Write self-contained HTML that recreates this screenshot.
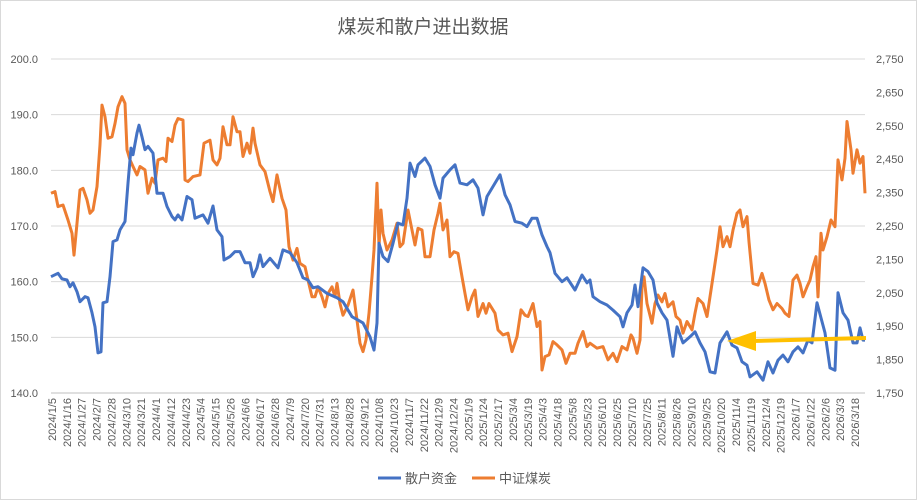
<!DOCTYPE html>
<html><head><meta charset="utf-8"><style>
html,body{margin:0;padding:0;background:#fff;}
svg{display:block;font-family:"Liberation Sans","Noto Sans CJK SC",sans-serif;}
</style></head><body>
<svg id="chart" width="917" height="500" viewBox="0 0 917 500" xmlns="http://www.w3.org/2000/svg">
<rect x="0.5" y="0.5" width="916" height="499" fill="#fff" stroke="#d9d9d9"/>
<text x="423" y="33" font-size="19" fill="#595959" text-anchor="middle">煤炭和散户进出数据</text>
<g id="grid"></g>
<g id="yl"></g>
<g id="yr"></g>
<g id="xl"></g>
<g id="series"></g>
<g>
<line x1="866" y1="338" x2="752" y2="341" stroke="#FFC000" stroke-width="4"/>
<polygon points="727,341 756,331 756,351" fill="#FFC000"/>
</g>
<g>
<g>
<line x1="378" y1="478" x2="401" y2="478" stroke="#4472C4" stroke-width="3"/>
<text x="405" y="483" font-size="13" fill="#595959">散户资金</text></g>
<g>
<line x1="472" y1="478" x2="495" y2="478" stroke="#ED7D31" stroke-width="3"/>
<text x="499" y="483" font-size="13" fill="#595959">中证煤炭</text></g>
</g>
</svg>
<script>
const xLabels=["2024/1/5","2024/1/16","2024/1/27","2024/2/7","2024/2/28","2024/3/10","2024/3/21","2024/4/1","2024/4/12","2024/4/23","2024/5/4","2024/5/15","2024/5/26","2024/6/6","2024/6/17","2024/6/28","2024/7/9","2024/7/20","2024/7/31","2024/8/13","2024/8/28","2024/9/12","2024/10/8","2024/10/23","2024/11/7","2024/11/22","2024/12/9","2024/12/24","2025/1/9","2025/1/24","2025/2/17","2025/3/4","2025/3/19","2025/4/3","2025/4/18","2025/5/8","2025/5/23","2025/6/10","2025/6/25","2025/7/10","2025/7/25","2025/8/11","2025/8/26","2025/9/10","2025/9/25","2025/10/20","2025/11/4","2025/11/19","2025/12/4","2025/12/19","2026/1/7","2026/1/22","2026/2/6","2026/3/3","2026/3/18"];
const leftTicks=[140,150,160,170,180,190,200];
const rightTicks=[1750,1850,1950,2050,2150,2250,2350,2450,2550,2650,2750];
const blueDays=[0,7,11,16,19,22,26,29,34,37,41,44,47,50,52,56,59,62,66,69,74,77,80,82,86,88,91,94,97,102,106,112,116,121,124,127,131,136,141,144,152,157,162,166,171,173,179,184,189,194,199,202,206,209,212,219,227,232,239,246,252,257,262,267,276,286,292,301,307,312,319,323,326,328,332,337,342,347,352,356,359,364,367,374,379,384,389,392,399,404,409,416,422,427,432,436,442,449,454,459,464,471,476,481,486,491,496,499,504,511,516,524,531,536,539,542,549,556,562,569,572,576,581,584,587,592,597,602,606,611,616,622,626,632,639,644,649,654,659,664,669,676,681,686,691,696,699,706,712,717,722,727,732,737,742,747,752,757,761,766,770,774,779,784,787,792,797,802,806,809,812,814];
const blueValues=[160.9,161.5,160.5,160.3,159.1,159.8,158.2,156.4,157.3,157.1,154.4,151.9,147.2,147.4,156.2,156.4,160.9,167.2,167.5,169.3,170.8,177.7,184.0,182.8,186.7,188.1,186.0,183.7,184.3,183.1,175.9,175.9,173.5,171.7,171.1,172.0,171.1,175.3,174.7,171.4,172.0,170.5,173.6,169.3,168.1,163.9,164.5,165.4,165.4,163.4,163.4,160.9,162.5,164.8,162.7,164.2,162.5,165.7,165.2,163.4,160.7,160.3,158.9,159.1,157.9,157.1,156.4,153.7,153.1,152.6,150.1,147.7,152.6,166.9,164.5,163.6,166.9,170.5,170.2,175.0,181.3,178.9,181.0,182.2,180.7,177.4,175.0,178.6,180.1,181.0,177.7,177.4,178.3,176.8,172.0,175.3,177.1,179.2,175.6,173.8,170.8,170.5,169.9,171.4,171.4,168.4,166.3,165.2,161.5,160.0,160.7,158.5,161.2,159.8,160.3,157.3,156.4,155.8,154.9,153.7,151.9,154.4,155.8,159.4,155.5,162.5,161.8,160.3,156.2,154.4,153.1,146.6,151.9,149.0,150.1,151.0,149.0,147.4,143.8,143.6,149.0,151.0,148.6,148.1,145.6,145.0,142.9,143.8,142.3,145.6,143.6,145.9,146.8,145.6,147.4,148.3,147.2,149.5,149.0,156.2,153.5,150.8,144.5,144.1,158.0,154.4,153.1,149.0,149.0,151.7,149.5,149.5];
const orangeDays=[0,4,7,12,17,21,23,26,29,32,36,39,42,46,49,51,54,57,61,64,67,71,74,76,79,82,86,89,94,97,101,104,107,112,115,117,121,124,127,132,134,137,142,149,153,159,162,166,169,172,176,179,182,186,189,192,196,199,202,204,209,214,219,222,226,231,235,238,242,246,249,254,257,261,264,267,271,274,277,281,284,286,289,292,297,302,306,309,312,315,318,321,323,326,328,330,332,336,341,346,349,352,357,361,364,367,371,374,379,383,387,389,392,396,399,403,407,411,414,417,421,424,427,432,435,438,444,447,452,457,461,466,470,474,477,482,486,489,491,494,498,502,506,511,515,519,524,527,532,536,539,546,552,557,562,566,571,576,580,582,586,589,591,593,596,601,604,607,611,614,617,622,625,629,632,636,641,644,647,652,656,660,663,666,669,672,676,679,682,686,689,692,696,698,702,707,711,714,718,722,726,731,734,738,742,746,749,752,756,759,762,765,767,770,772,776,780,784,787,791,794,796,800,802,806,809,812,814];
const orangeValues=[2348,2353,2308,2313,2268,2228,2163,2258,2358,2363,2328,2288,2298,2368,2493,2612,2577,2513,2517,2557,2607,2637,2617,2478,2448,2428,2403,2428,2418,2348,2393,2378,2448,2453,2443,2513,2503,2552,2572,2567,2388,2383,2398,2403,2498,2507,2448,2433,2453,2547,2493,2493,2577,2532,2532,2458,2498,2468,2543,2498,2433,2413,2353,2323,2403,2333,2298,2188,2148,2183,2138,2128,2088,2038,2038,2068,2038,2008,2048,2068,2038,2078,2018,1983,2013,2058,1968,1899,1874,1909,1989,2098,2178,2378,2188,2298,2228,2178,2208,2258,2188,2198,2298,2238,2193,2243,2238,2158,2158,2238,2288,2318,2238,2268,2158,2173,2168,2098,2048,1999,2038,2058,1979,2018,1989,2018,1989,1939,1924,1929,1874,1919,1999,1983,1979,2018,1949,1964,1819,1859,1864,1904,1894,1879,1839,1869,1869,1899,1934,1889,1899,1884,1889,1849,1869,1844,1889,1879,1924,1914,1869,1909,2068,2098,2018,1959,2018,2043,2023,2048,2008,2023,1979,1968,1929,1964,1939,1989,2033,2018,1979,2058,2118,2178,2248,2188,2218,2188,2238,2288,2298,2248,2278,2203,2078,2073,2108,2078,2028,1999,2018,2003,1989,1979,2088,2103,2078,2038,2068,2088,2128,2158,2038,2228,2178,2218,2268,2248,2448,2388,2453,2563,2478,2408,2478,2438,2458,2348];

const NS="http://www.w3.org/2000/svg";
const PL=51,PR=865,PT=59,PB=393,DAYS=814;
const xS=d=>PL+d/DAYS*(PR-PL);
const yL=v=>PB-(v-140)/60*(PB-PT);
const yR=v=>PB-(v-1750)/1000*(PB-PT);
function mk(tag,attrs,parent){const e=document.createElementNS(NS,tag);for(const k in attrs)e.setAttribute(k,attrs[k]);parent.appendChild(e);return e;}
const grid=document.getElementById('grid'),yl=document.getElementById('yl'),yr=document.getElementById('yr'),xl=document.getElementById('xl'),ser=document.getElementById('series');
leftTicks.forEach(t=>{
  const y=yL(t);
  const g=mk('line',{x1:PL,x2:PR,y1:y,y2:y,stroke:t===140?'#bfbfbf':'#d9d9d9','stroke-width':1},grid);
  
  
  const tx=mk('text',{x:38,y:y+4,'font-size':11,fill:'#595959','text-anchor':'end'},yl);
  tx.textContent=t.toFixed(1);
  
  
});
rightTicks.forEach(t=>{
  const tx=mk('text',{x:876,y:yR(t)+4,'font-size':11,fill:'#595959'},yr);
  tx.textContent=t.toLocaleString('en-US');
  
  
});
const step=(855-52)/(xLabels.length-1);
xLabels.forEach((l,i)=>{
  const x=52+i*step;
  const tx=mk('text',{x:0,y:0,'font-size':11,fill:'#595959','text-anchor':'end',transform:`translate(${x+4},398) rotate(-90)`},xl);
  tx.textContent=l;
  
  
});
function line(days,vals,ys,color,name){
  const d=days.map((dd,i)=>(i?'L':'M')+xS(dd).toFixed(1)+','+ys(vals[i]).toFixed(1)).join('');
  const p=mk('path',{d:d,fill:'none',stroke:color,'stroke-width':3,'stroke-linejoin':'round'},ser);
  
  
}
line(orangeDays,orangeValues,yR,'#ED7D31','csi-coal-line');
line(blueDays,blueValues,yL,'#4472C4','retail-funds-line');
</script>
</body></html>
